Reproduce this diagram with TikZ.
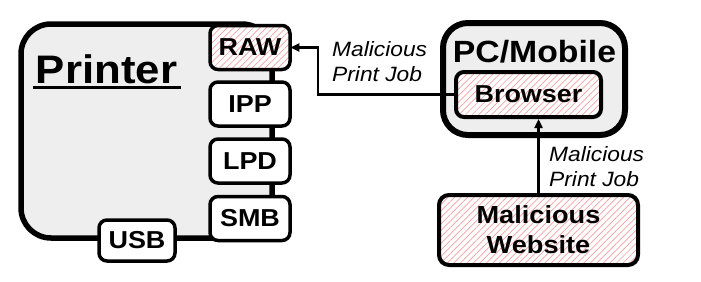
\documentclass[tikz,border=0pt]{standalone}
\usepackage{fontspec}
\setmainfont{Liberation Sans}[FakeStretch=1.1]
\usetikzlibrary{arrows.meta,patterns.meta}
\definecolor{panelgray}{HTML}{EEEEEE}
\definecolor{hatchred}{HTML}{F2A0A0}
\tikzset{
  box/.style={draw=black, rounded corners=8pt, line width=3.5pt, fill=white,
    inner sep=0pt, font=\fontsize{24.5}{29}\selectfont\bfseries},
  hatched/.style={preaction={fill=white},
    pattern={Lines[angle=45,distance=4.6pt,line width=0.7pt]}, pattern color=hatchred},
  proto/.style={box, minimum width=80pt, minimum height=44pt},
  panel/.style={draw=black, fill=panelgray, inner sep=0pt},
  flow/.style={line width=2.5pt, -{Triangle[length=9pt,width=8pt]}},
  jobtext/.style={font=\fontsize{20.7}{25}\selectfont\itshape, align=left,
    inner sep=0pt, anchor=north west},
}
\begin{document}
\begin{tikzpicture}[x=1pt,y=-1pt]
\useasboundingbox (0,0) rectangle (701,281);

% printer body
\node[panel, line width=5.5pt, rounded corners=30pt,
  minimum width=251pt, minimum height=214pt] (printer) at (146.5,131) {};
\node[font=\fontsize{39.8}{44}\selectfont\bfseries, inner sep=0pt, anchor=base]
  (ptitle) at (106.5,83) {Printer};
\draw[line width=2.5pt] ([xshift=-3pt,yshift=-4.5pt]ptitle.base west)
  -- ([xshift=4pt,yshift=-4.5pt]ptitle.base east);

% protocol ports
\node[proto, hatched] (raw) at (250,47.5) {RAW};
\node[proto] (ipp) at (250,104) {IPP};
\node[proto] (lpd) at (250,161) {LPD};
\node[proto] (smb) at (250,218.5) {SMB};
\node[box, minimum width=76pt, minimum height=41pt] (usb) at (137,240.5) {USB};

% client device
\node[panel, line width=6pt, rounded corners=25pt,
  minimum width=182pt, minimum height=112pt] (pc) at (534,79) {};
\node[font=\fontsize{30.7}{36}\selectfont\bfseries, inner sep=0pt, anchor=base]
  (pctitle) at (534.5,62) {PC/Mobile};
\node[box, hatched, line width=4pt, minimum width=145pt, minimum height=45pt]
  (browser) at (528.5,94.5) {Browser};

% attacker
\node[box, hatched, line width=4pt, rounded corners=10pt, align=center,
  font=\fontsize{24.7}{30}\selectfont\bfseries,
  minimum width=199pt, minimum height=70pt] (website) at (538.5,230) {Malicious\\Website};

% print job flow
\coordinate (bend) at (318,47.5);
\draw[flow] (browser.west) -| (bend) -- (raw.east);
\draw[flow] (website.north) -- (website.north |- browser.south);

\node[jobtext] (lbl1) at (332,41) {Malicious\\Print Job};
\node[jobtext] (lbl2) at (549,146) {Malicious\\Print Job};
\end{tikzpicture}
\end{document}
